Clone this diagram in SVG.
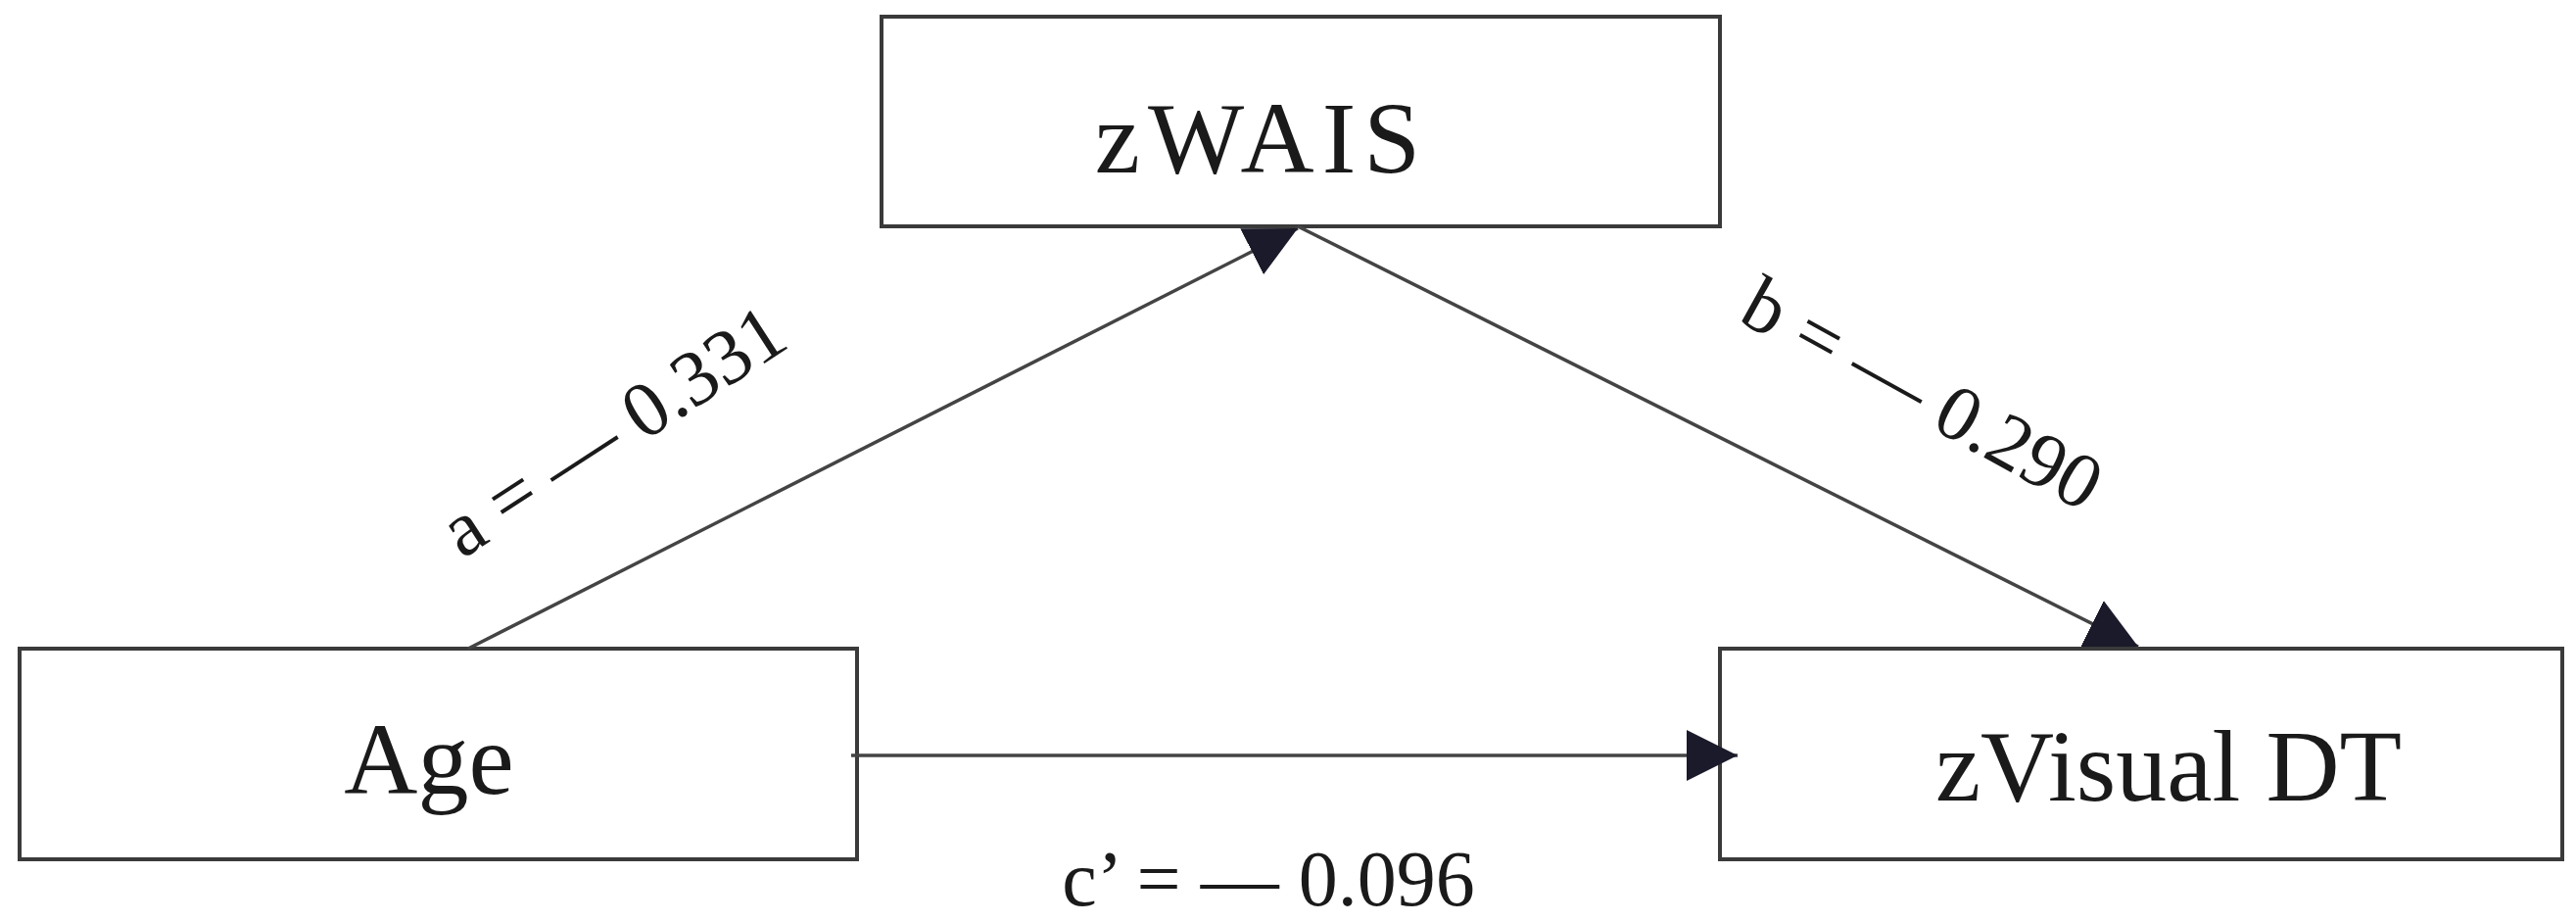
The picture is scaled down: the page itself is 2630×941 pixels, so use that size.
<svg xmlns="http://www.w3.org/2000/svg" width="2630" height="941" viewBox="0 0 2630 941">
<style>
.box{fill:#fff;stroke:#3a3a3a;stroke-width:4}
.lbl{font-family:"Liberation Serif",serif;font-size:104px;fill:#1a1a1a;text-anchor:middle}
.el{font-family:"Liberation Serif",serif;font-size:80px;fill:#1a1a1a;text-anchor:middle}
.ln{stroke:#444;stroke-width:3.5;fill:none}
</style>
<defs>
<marker id="a2" viewBox="0 0 10 10" refX="10" refY="5" markerWidth="15" markerHeight="15" orient="auto"><path d="M0,0 L10,5 L0,10 Z" fill="#1a1a2a"/></marker>
</defs>
<g id="zWAIS"><rect class="box" x="900" y="17" width="856" height="214"/><text class="lbl" x="1288" y="176" letter-spacing="8">zWAIS</text></g>
<g id="age"><rect class="box" x="20" y="662" width="855" height="215"/><text class="lbl" x="438" y="810">Age</text></g>
<g id="zVisual"><rect class="box" x="1756" y="662" width="860" height="215"/><text class="lbl" x="2214" y="817">zVisual DT</text></g>
<g id="connectors">
<line class="ln" x1="478" y1="662" x2="1325" y2="233" marker-end="url(#a2)"/>
<line class="ln" x1="1325" y1="231" x2="2183" y2="660" marker-end="url(#a2)"/>
<line class="ln" x1="869" y1="771" x2="1774" y2="771" marker-end="url(#a2)"/>
</g>
<text class="el" transform="translate(640,462) rotate(-33)">a = — 0.331</text>
<text class="el" transform="translate(1950,425) rotate(29)">b = — 0.290</text>
<text class="el" x="1295" y="924">c’ = — 0.096</text>
</svg>
